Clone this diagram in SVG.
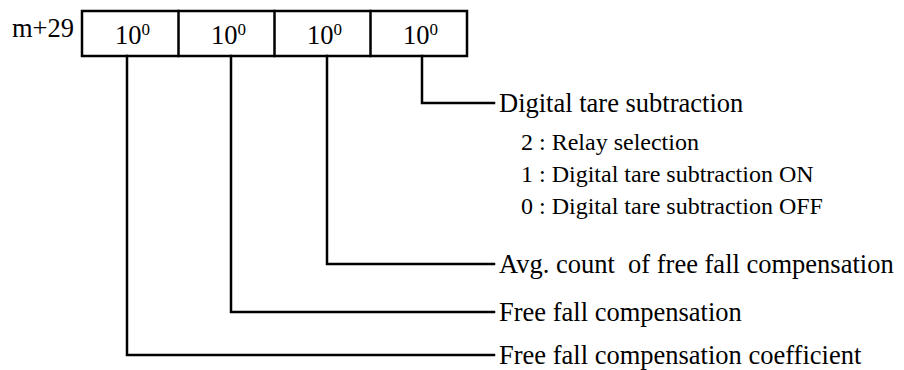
<svg xmlns="http://www.w3.org/2000/svg" width="904" height="370" viewBox="0 0 904 370">
<style>
.t{font-family:"Liberation Serif","Times New Roman",serif;font-size:26.5px;fill:#000}
.s{font-family:"Liberation Serif","Times New Roman",serif;font-size:24px;fill:#000}
.sup{font-size:17px}
.ln{fill:none;stroke:#000;stroke-width:2.5;stroke-linecap:square}
</style>
<rect width="904" height="370" fill="#fff"/>
<g id="register">
<text class="t" x="12" y="37">m+29</text>
<rect class="ln" x="82" y="11" width="385" height="45"/>
<line class="ln" x1="178.5" y1="11" x2="178.5" y2="56"/>
<line class="ln" x1="274.5" y1="11" x2="274.5" y2="56"/>
<line class="ln" x1="370.5" y1="11" x2="370.5" y2="56"/>
<text class="t" x="115" y="44">10<tspan class="sup" dy="-9">0</tspan></text>
<text class="t" x="211" y="44">10<tspan class="sup" dy="-9">0</tspan></text>
<text class="t" x="307" y="44">10<tspan class="sup" dy="-9">0</tspan></text>
<text class="t" x="403" y="44">10<tspan class="sup" dy="-9">0</tspan></text>
</g>
<g id="connectors">
<polyline class="ln" points="422,56 422,103 494,103"/>
<polyline class="ln" points="327,56 327,264 494,264"/>
<polyline class="ln" points="231,56 231,312 494,312"/>
<polyline class="ln" points="127,56 127,355 494,355"/>
</g>
<g id="digital-tare">
<text class="t" x="499" y="112">Digital tare subtraction</text>
<text class="s" x="521" y="150" xml:space="preserve">2 : Relay selection</text>
<text class="s" x="521" y="182" xml:space="preserve">1 : Digital tare subtraction ON</text>
<text class="s" x="521" y="214" xml:space="preserve">0 : Digital tare subtraction OFF</text>
</g>
<g id="avg-count">
<text class="t" x="499" y="273" xml:space="preserve">Avg. count  of free fall compensation</text>
</g>
<g id="free-fall">
<text class="t" x="499" y="321">Free fall compensation</text>
</g>
<g id="free-fall-coef">
<text class="t" x="499" y="364">Free fall compensation coefficient</text>
</g>
</svg>
